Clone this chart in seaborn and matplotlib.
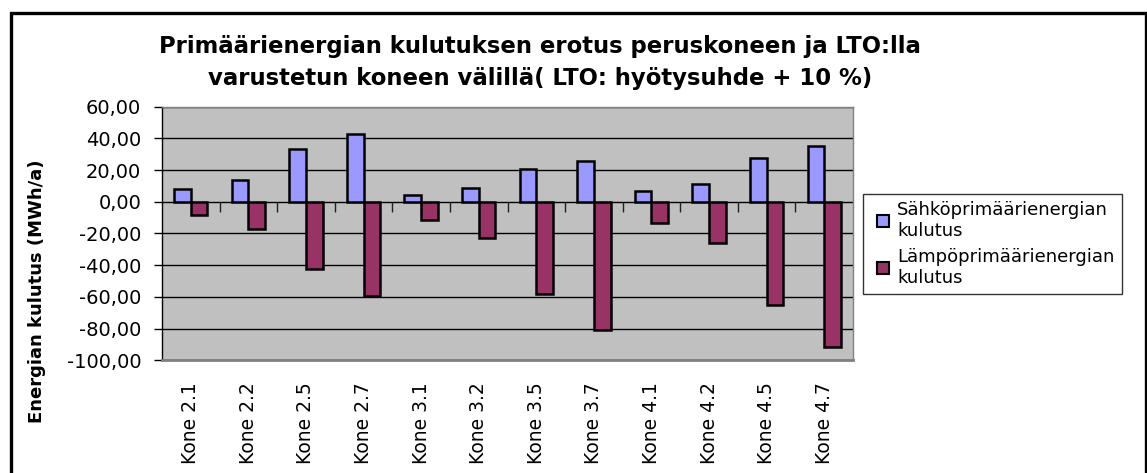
import numpy as np
import pandas as pd
import matplotlib
matplotlib.use("Agg")
import matplotlib.pyplot as plt
from matplotlib.lines import Line2D
from matplotlib.patches import Rectangle
from matplotlib.ticker import FuncFormatter, MultipleLocator
import seaborn as sns

categories = ["Kone 2.1", "Kone 2.2", "Kone 2.5", "Kone 2.7",
              "Kone 3.1", "Kone 3.2", "Kone 3.5", "Kone 3.7",
              "Kone 4.1", "Kone 4.2", "Kone 4.5", "Kone 4.7"]
sahko = [7.8, 13.5, 33.2, 42.9, 4.4, 8.4, 20.6, 25.7, 6.7, 11.0, 27.6, 35.3]
lampo = [-8.4, -17.0, -42.3, -59.5, -11.5, -22.9, -58.0, -81.1, -13.6, -26.2, -65.4, -91.7]
series_names = ["Sähköprimäärienergian\nkulutus", "Lämpöprimäärienergian\nkulutus"]
colors = ["#9999FF", "#993366"]
title = "Primäärienergian kulutuksen erotus peruskoneen ja LTO:lla\nvarustetun koneen välillä( LTO: hyötysuhde + 10 %)"
ylabel = "Energian kulutus (MWh/a)"

df = pd.DataFrame({
    "kone": categories * 2,
    "sarja": [series_names[0]] * len(categories) + [series_names[1]] * len(categories),
    "arvo": sahko + lampo,
})

sns.set_theme(style="white")
plt.rcParams["font.family"] = ["DejaVu Sans"]
plt.rcParams["text.color"] = "black"

fig = plt.figure(figsize=(11.47, 4.73), dpi=100)
ax = fig.add_axes([162 / 1147, 1 - 360.2 / 473, (853 - 162) / 1147, (360.2 - 106.6) / 473])

sns.barplot(data=df, x="kone", y="arvo", hue="sarja", order=categories,
            hue_order=series_names, palette=colors, width=0.58, dodge=True,
            saturation=1, edgecolor="black", linewidth=1.8, ax=ax,
            legend=False, errorbar=None)

ax.set_facecolor("#C0C0C0")
ax.set_ylim(-100, 60)
ax.set_xlim(-0.5, len(categories) - 0.5)
ax.yaxis.set_major_locator(MultipleLocator(20))
ax.yaxis.set_major_formatter(FuncFormatter(lambda v, p: f"{v:.2f}".replace(".", ",")))
ax.grid(axis="y", color="black", linewidth=1.0)
ax.grid(axis="x", visible=False)
ax.set_axisbelow(True)
ax.set_xlabel("")
ax.set_ylabel("")

ax.tick_params(axis="y", which="major", direction="out", length=6, width=1,
               color="black", labelsize=14, pad=9, left=True, labelcolor="black")
ax.tick_params(axis="x", which="major", length=0, labelsize=13.5, pad=16,
               labelrotation=90, labelcolor="black")

for s in ["top", "right"]:
    ax.spines[s].set_color("#808080")
    ax.spines[s].set_linewidth(1.0)
ax.spines["bottom"].set_color("#808080")
ax.spines["bottom"].set_linewidth(2.0)
ax.spines["left"].set_color("black")
ax.spines["left"].set_linewidth(1.0)

# category separator ticks on the zero line
ylo, yhi = ax.get_ylim()
zero_frac = (0 - ylo) / (yhi - ylo)
sec = ax.secondary_xaxis(zero_frac)
sec.set_xticks(np.arange(0.5, len(categories) - 1, 1.0))
sec.tick_params(direction="in", length=7, width=1, color="#202020",
                labeltop=False, labelbottom=False)
for s in sec.spines.values():
    s.set_visible(False)

# Title and axis title
fig.text(0.471, 0.868, title, ha="center", va="center", fontsize=16.4,
         fontweight="bold", linespacing=1.5, color="black")
fig.text(37 / 1147, 0.385, ylabel, ha="center", va="center", rotation=90,
         fontsize=13, fontweight="bold", color="black")

# Legend
handles = [Line2D([], [], linestyle="none", marker="s", markersize=8,
                  markerfacecolor=c, markeredgecolor="black", markeredgewidth=1.5)
           for c in colors]
leg = fig.legend(handles, series_names, loc="upper left",
                 bbox_to_anchor=(862.7 / 1147, 1 - 194 / 473),
                 borderaxespad=0, fontsize=13, frameon=True, fancybox=False,
                 edgecolor="black", borderpad=0.4, handlelength=1.4,
                 handletextpad=0.1, labelspacing=0.45, labelcolor="black")
leg.get_frame().set_linewidth(1.0)

# Outer chart border
fig.patches.append(Rectangle((11 / 1147, -0.05), (1145.5 - 11) / 1147, 0.05 + 1 - 13.5 / 473,
                             transform=fig.transFigure, fill=False,
                             edgecolor="black", linewidth=2.4, clip_on=False))

fig.savefig("out.png", dpi=100, facecolor="white")
